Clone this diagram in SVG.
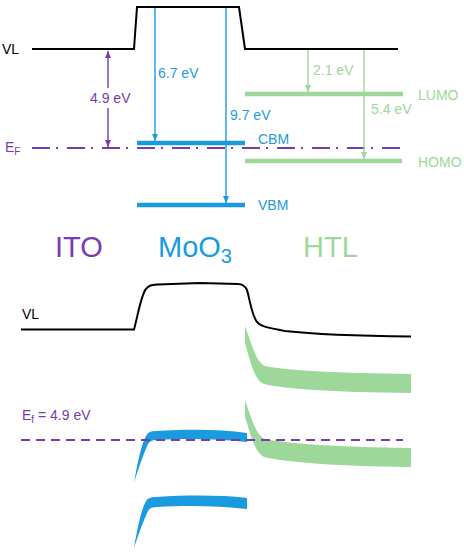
<svg xmlns="http://www.w3.org/2000/svg" width="464" height="554" viewBox="0 0 464 554">
<style>
text{font-family:"Liberation Sans",Arial,sans-serif;font-size:14px}
.p{fill:#7A3BAE}.b{fill:#1A9BE0}.g{fill:#9DD89A}.k{fill:#000}
.big{font-size:29px}
.vl{fill:none;stroke:#000;stroke-width:2}
.lvB{stroke:#1A9BE0;stroke-width:4.5}
.lvG{stroke:#9DD89A;stroke-width:4.5}
.arB{stroke:#1A9BE0;stroke-width:1.4;fill:none}
.arG{stroke:#9DD89A;stroke-width:1.4;fill:none}
.arP{stroke:#7A3BAE;stroke-width:1.4;fill:none}
</style>
<defs>
<marker id="mB" markerUnits="userSpaceOnUse" markerWidth="8" markerHeight="8" refX="7" refY="4" orient="auto"><path d="M0,1 L7,4 L0,7 Z" fill="#1A9BE0"/></marker>
<marker id="mG" markerUnits="userSpaceOnUse" markerWidth="8" markerHeight="8" refX="7" refY="4" orient="auto"><path d="M0,1 L7,4 L0,7 Z" fill="#9DD89A"/></marker>
<marker id="mP" markerUnits="userSpaceOnUse" markerWidth="8" markerHeight="8" refX="7" refY="4" orient="auto"><path d="M0,1 L7,4 L0,7 Z" fill="#7A3BAE"/></marker>
</defs>

<!-- Top diagram -->
<g id="top-vl">
<path class="vl" d="M32,49 L134,49 L137,7 L239,7 L245,49 L398,49"/>
<text class="k" x="2" y="54">VL</text>
</g>
<g id="top-levels">
<line class="lvB" x1="137" y1="143" x2="245" y2="143"/>
<line class="lvB" x1="137" y1="205" x2="245" y2="205"/>
<line class="lvG" x1="245" y1="94" x2="403" y2="94"/>
<line class="lvG" x1="245" y1="161" x2="402" y2="161"/>
<text class="b" x="258" y="144">CBM</text>
<text class="b" x="258" y="210">VBM</text>
<text class="g" x="418" y="100">LUMO</text>
<text class="g" x="418" y="167">HOMO</text>
</g>
<g id="top-ef">
<line x1="32" y1="148" x2="400" y2="148" stroke="#7A3BAE" stroke-width="2" stroke-dasharray="18 6 2 9"/>
<text class="p" x="5" y="152">E<tspan font-size="10" dy="3">F</tspan></text>
</g>
<g id="connectors">
<line class="arP" x1="108" y1="88" x2="108" y2="51" marker-end="url(#mP)"/>
<line class="arP" x1="108" y1="108" x2="108" y2="147" marker-end="url(#mP)"/>
<line class="arB" x1="155" y1="8" x2="155" y2="141" marker-end="url(#mB)"/>
<line class="arB" x1="226" y1="8" x2="226" y2="203" marker-end="url(#mB)"/>
<line class="arG" x1="308" y1="50" x2="308" y2="92" marker-end="url(#mG)"/>
<line class="arG" x1="364" y1="50" x2="364" y2="159" marker-end="url(#mG)"/>
</g>
<g id="labels-top">
<text class="p" x="90" y="103">4.9 eV</text>
<text class="b" x="158" y="78">6.7 eV</text>
<text class="b" x="230" y="120">9.7 eV</text>
<text class="g" x="313" y="75">2.1 eV</text>
<text class="g" x="371" y="114">5.4 eV</text>
</g>

<!-- Material labels -->
<g id="material-labels">
<text class="p big" x="55" y="257">ITO</text>
<text class="b big" x="158" y="257">MoO<tspan font-size="20" dy="6">3</tspan></text>
<text class="g big" x="303" y="257">HTL</text>
</g>

<!-- Bottom diagram -->
<g id="bottom-vl">
<path class="vl" d="M21,329.5 L134,329.5 C138,315 141,295 146,289 C149,285 152,285 158,284.5 L200,283 L238,284 C243,284 245,286 247,290 C250,300 252,318 258,323 C262,327 270,328 285,331 C320,335 360,336 411,336.5"/>
<text class="k" x="22" y="319">VL</text>
</g>
<g id="htl-bands">
<path class="g" d="M245,326 L245,343 C250,360 254,380 264,384 C285,389 330,392 411,393 L411,374 C340,373 290,371 265,366 C256,362 252,345 245,326 Z"/>
<path class="g" d="M245,400 L245,417 C250,432 254,452 264,457 C285,462 330,466 411,467 L411,448 C340,447 290,444 265,439 C256,435 252,420 245,400 Z"/>
</g>
<g id="moo3-bands">
<path class="b" d="M134,483 C137,465 141,445 146,436 C148,432 151,431 156,431 C190,429 220,429 247,433 L247,442 C220,439 190,438 157,440 C152,440 150,441 148,444 C143,455 138,470 134,483 Z"/>
<path class="b" d="M134,548 C137,530 141,510 146,501 C148,498 151,497 156,497 C190,495 220,495 247,498 L247,509 C220,506 190,505 157,507 C152,507 150,508 148,511 C143,522 138,535 134,548 Z"/>
</g>
<g id="bottom-ef">
<line x1="21" y1="440" x2="403" y2="440" stroke="#7A3BAE" stroke-width="1.8" stroke-dasharray="9 6"/>
<text class="p" x="22" y="420">E<tspan font-size="10" dy="3">f</tspan><tspan dy="-3"> = 4.9 eV</tspan></text>
</g>
</svg>
